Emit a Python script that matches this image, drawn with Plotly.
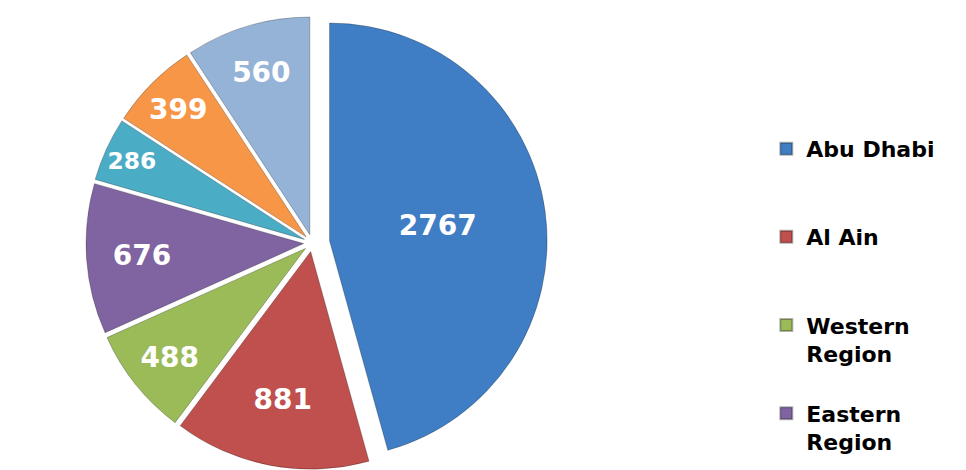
import plotly.graph_objects as go

labels = ["Abu Dhabi", "Al Ain", "Western Region", "Eastern Region", "Region 5", "Region 6", "Region 7"]
values = [2767, 881, 488, 676, 286, 399, 560]
colors = ["#3F7EC4", "#C0504D", "#9BBB59", "#8064A2", "#4BACC6", "#F79646", "#95B3D7"]
legend_labels = ["Abu Dhabi<br>\u00a0", "Al Ain<br>\u00a0", "Western<br>Region", "Eastern<br>Region"]
pulls = [0.08, 0.04, 0.04, 0.04, 0.04, 0.04, 0.04]

fig = go.Figure()
fig.add_trace(go.Pie(
    labels=labels, values=values, sort=False, direction="clockwise", rotation=0,
    marker=dict(colors=colors, line=dict(color="rgba(0,0,0,0.25)", width=1)),
    pull=pulls,
    textinfo="value", textposition="inside", insidetextorientation="horizontal",
    textfont=dict(family="DejaVu Sans", size=28, color="white", weight="bold"),
    showlegend=False, domain=dict(x=[0, 0.63], y=[0, 1]),
))
for i, name in enumerate(legend_labels):
    fig.add_trace(go.Scatter(
        x=[None], y=[None], mode="markers", name=name, legendgroup=f"g{i}",
        marker=dict(symbol="square", size=18, color=colors[i], line=dict(color="rgba(0,0,0,0.3)", width=1)),
    ))

fig.update_layout(
    width=966, height=470, margin=dict(l=0, r=0, t=0, b=0),
    paper_bgcolor="white", plot_bgcolor="white",
    xaxis=dict(visible=False), yaxis=dict(visible=False),
    legend=dict(x=0.785, y=0.745, xanchor="left", yanchor="top", tracegroupgap=28, valign="top",
                font=dict(family="DejaVu Sans", size=22, color="black", weight="bold"),
                itemsizing="constant"),
)
fig.write_html("out.html")
